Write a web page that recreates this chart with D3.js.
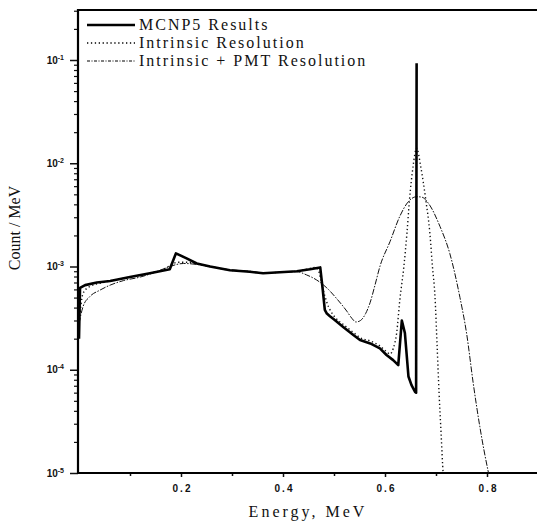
<html>
<script src='https://d3js.org/d3.v7.min.js'></script>
<style>
  body { margin: 0; background: #fff; }
  .tick text { font-family: 'Liberation Sans', Arial, sans-serif; font-weight: bold; font-size: 10px; fill: #111; }
  .ttl { font-family: 'Liberation Serif', 'Times New Roman', serif; fill: #111; }
</style>
<body onload='init()'>
<svg width=537 height=523></svg>
<script>
// MCNP5 results (thick solid)
const mcnpE = [0, 0.002, 0.012, 0.035, 0.061, 0.100, 0.139, 0.178, 0.190, 0.211, 0.231, 0.257, 0.296, 0.335, 0.361, 0.394, 0.427, 0.453, 0.473, 0.478, 0.482, 0.486, 0.492, 0.499, 0.518, 0.538, 0.551, 0.571, 0.590, 0.603, 0.616, 0.626, 0.633, 0.639, 0.646, 0.652, 0.659, 0.661, 0.662];
const mcnpV = [2.0e-4, 6.2e-4, 6.6e-4, 7.0e-4, 7.25e-4, 7.9e-4, 8.6e-4, 9.4e-4, 1.34e-3, 1.2e-3, 1.07e-3, 1.0e-3, 9.2e-4, 8.9e-4, 8.6e-4, 8.8e-4, 9.0e-4, 9.4e-4, 9.8e-4, 5.9e-4, 3.8e-4, 3.5e-4, 3.3e-4, 3.1e-4, 2.6e-4, 2.17e-4, 1.94e-4, 1.8e-4, 1.61e-4, 1.39e-4, 1.24e-4, 1.11e-4, 3.0e-4, 2.27e-4, 8.6e-5, 7.1e-5, 6.1e-5, 6.0e-5, 0.093];
// Intrinsic resolution (dotted)
const intrE = [0, 0.008, 0.021, 0.048, 0.100, 0.139, 0.170, 0.183, 0.195, 0.210, 0.231, 0.257, 0.296, 0.335, 0.361, 0.394, 0.427, 0.450, 0.463, 0.470, 0.476, 0.482, 0.489, 0.495, 0.505, 0.518, 0.538, 0.551, 0.571, 0.590, 0.603, 0.610, 0.616, 0.623, 0.629, 0.637, 0.643, 0.648, 0.655, 0.662, 0.670, 0.680, 0.688, 0.693, 0.698, 0.702, 0.706, 0.710, 0.714, 0.717];
const intrV = [2.8e-4, 5.5e-4, 6.4e-4, 7.0e-4, 7.9e-4, 8.6e-4, 9.6e-4, 1.06e-3, 1.1e-3, 1.1e-3, 1.06e-3, 1.0e-3, 9.2e-4, 8.9e-4, 8.6e-4, 8.8e-4, 9.0e-4, 9.5e-4, 9.8e-4, 9.0e-4, 6.8e-4, 5.2e-4, 4.1e-4, 3.6e-4, 3.1e-4, 2.75e-4, 2.3e-4, 2.05e-4, 1.9e-4, 1.7e-4, 1.5e-4, 1.42e-4, 1.6e-4, 2.3e-4, 4.7e-4, 1.0e-3, 2.1e-3, 4.4e-3, 9.3e-3, 1.4e-2, 9.3e-3, 4.4e-3, 2.1e-3, 1.0e-3, 5.1e-4, 1.8e-4, 6.0e-5, 2.4e-5, 1.0e-5, 7e-6];
// Intrinsic + PMT resolution (dash-dot)
const pmtE = [0, 0.008, 0.021, 0.041, 0.061, 0.087, 0.120, 0.152, 0.178, 0.205, 0.243, 0.296, 0.335, 0.361, 0.394, 0.427, 0.446, 0.466, 0.486, 0.505, 0.525, 0.535, 0.543, 0.552, 0.562, 0.571, 0.580, 0.590, 0.610, 0.629, 0.645, 0.662, 0.672, 0.685, 0.708, 0.727, 0.747, 0.760, 0.773, 0.786, 0.803, 0.810];
const pmtV = [2.8e-4, 4.1e-4, 5.1e-4, 5.9e-4, 6.6e-4, 7.3e-4, 7.9e-4, 8.9e-4, 1.0e-3, 1.07e-3, 1.03e-3, 9.3e-4, 9.0e-4, 8.7e-4, 8.8e-4, 8.9e-4, 8.3e-4, 7.4e-4, 6.2e-4, 4.9e-4, 3.7e-4, 3.15e-4, 2.9e-4, 3.0e-4, 3.5e-4, 4.5e-4, 6.5e-4, 1.0e-3, 1.75e-3, 3.06e-3, 4.2e-3, 4.74e-3, 4.7e-3, 4.1e-3, 2.43e-3, 1.34e-3, 5.0e-4, 2.25e-4, 7.4e-5, 2.8e-5, 1.0e-5, 7e-6];

const xMajor = [0.2, 0.4, 0.6, 0.8];
const xMinor = [0.1, 0.3, 0.5, 0.7];
const yMajor = [1e-5, 1e-4, 1e-3, 1e-2, 1e-1];
const yExp = ['-5', '-4', '-3', '-2', '-1'];
const legendLabels = ['MCNP5 Results', 'Intrinsic Resolution', 'Intrinsic + PMT Resolution'];

function init() {
  const svg = d3.select('svg');
  const left = 78, right = 538, top = 10, bottom = 473;
  const perDecade = (bottom - 60) / 4;
  const yTop = Math.pow(10, -1 + (60 - top) / perDecade);

  const x = d3.scaleLinear().domain([0, 0.9]).range([left + 1, right]);
  const y = d3.scaleLog().domain([1e-5, yTop]).range([bottom, top]);

  svg.append('clipPath').attr('id', 'clip')
    .append('rect').attr('x', left).attr('y', top).attr('width', right - left).attr('height', bottom - top);

  // minor ticks
  const yMinor = [];
  for (let d = -5; d < 0; d++) for (let k = 2; k <= 9; k++) {
    const v = k * Math.pow(10, d);
    if (v < yTop) yMinor.push(v);
  }
  svg.append('g').attr('transform', 'translate(' + left + ',0)')
    .call(d3.axisLeft(y).tickValues(yMinor).tickSize(4).tickFormat(''))
    .call(g => g.select('.domain').remove())
    .selectAll('line').attr('stroke', '#111').attr('stroke-width', 1.2);
  svg.append('g').attr('transform', 'translate(0,' + bottom + ')')
    .call(d3.axisBottom(x).tickValues(xMinor).tickSize(3).tickFormat(''))
    .call(g => g.select('.domain').remove())
    .selectAll('line').attr('stroke', '#111').attr('stroke-width', 1.5);

  // y axis
  const gy = svg.append('g').attr('transform', 'translate(' + left + ',0)')
    .call(d3.axisLeft(y).tickValues(yMajor).tickSize(8).tickPadding(6).tickFormat(''));
  gy.select('.domain').remove();
  gy.selectAll('.tick line').attr('stroke', '#111').attr('stroke-width', 1.5);
  gy.selectAll('.tick text').each(function(d, i) {
    const t = d3.select(this);
    t.append('tspan').text('10');
    t.append('tspan').attr('dy', '-4').attr('font-size', '7px').text(yExp[i]);
  });

  // x axis
  const gx = svg.append('g').attr('transform', 'translate(0,' + bottom + ')')
    .call(d3.axisBottom(x).tickValues(xMajor).tickSize(4).tickPadding(8).tickFormat(d3.format('.1f')));
  gx.select('.domain').remove();
  gx.selectAll('.tick line').attr('stroke', '#111').attr('stroke-width', 1.5);
  gx.selectAll('.tick text').attr('letter-spacing', '2px').attr('dx', '1px');

  // frame
  svg.append('line').attr('x1', left).attr('x2', left).attr('y1', top - 1).attr('y2', bottom + 1)
    .attr('stroke', '#000').attr('stroke-width', 2.2);
  svg.append('line').attr('x1', left).attr('x2', 537).attr('y1', bottom).attr('y2', bottom)
    .attr('stroke', '#000').attr('stroke-width', 2.2);
  svg.append('line').attr('x1', left).attr('x2', 537).attr('y1', top).attr('y2', top)
    .attr('stroke', '#000').attr('stroke-width', 2.2);

  const plot = svg.append('g').attr('clip-path', 'url(#clip)');
  const mk = (E, V) => E.map((e, i) => [e, V[i]]);

  const lineLin = d3.line().x(d => x(d[0])).y(d => y(d[1]));
  const lineSm = d3.line().x(d => x(d[0])).y(d => y(d[1])).curve(d3.curveMonotoneX);

  plot.append('path').attr('d', lineSm(mk(pmtE, pmtV)))
    .attr('fill', 'none').attr('stroke', '#111').attr('stroke-width', 1)
    .attr('stroke-dasharray', '6,1.5,1.5,1.5');
  plot.append('path').attr('d', lineSm(mk(intrE, intrV)))
    .attr('fill', 'none').attr('stroke', '#111').attr('stroke-width', 1.4)
    .attr('stroke-dasharray', '1.3,2.6');
  plot.append('path').attr('d', lineLin(mk(mcnpE, mcnpV)))
    .attr('fill', 'none').attr('stroke', '#000').attr('stroke-width', 2.6)
    .attr('stroke-linejoin', 'round');

  // legend
  const styles = [
    {w: 2.6, dash: null},
    {w: 1.4, dash: '1.3,2.6'},
    {w: 1, dash: '3,1.5,1,1.5'}
  ];
  legendLabels.forEach((lab, i) => {
    const yy = 25 + i * 18;
    svg.append('line').attr('x1', 87).attr('x2', 135).attr('y1', yy).attr('y2', yy)
      .attr('stroke', '#000').attr('stroke-width', styles[i].w)
      .attr('stroke-dasharray', styles[i].dash);
    svg.append('text').attr('class', 'ttl').attr('x', 139).attr('y', yy + 5)
      .attr('font-size', '16px').attr('letter-spacing', '2px').text(lab);
  });

  // titles
  svg.append('text').attr('class', 'ttl').attr('x', 308).attr('y', 517)
    .attr('text-anchor', 'middle').attr('font-size', '16px').attr('letter-spacing', '3px')
    .text('Energy, MeV');
  svg.append('text').attr('class', 'ttl')
    .attr('transform', 'translate(20,228) rotate(-90)')
    .attr('text-anchor', 'middle').attr('font-size', '16px')
    .text('Count / MeV');
}
</script>
</body>
</html>
